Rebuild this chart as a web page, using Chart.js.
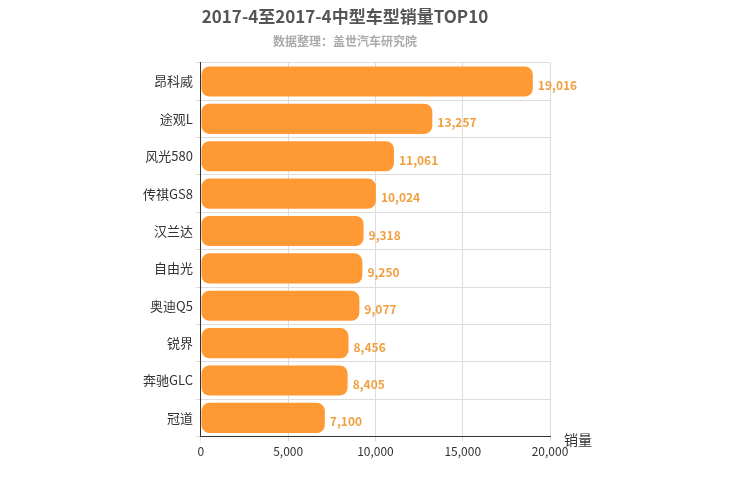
<!DOCTYPE html>
<html><head><meta charset="utf-8">
<script src="https://cdn.jsdelivr.net/npm/chart.js@4"></script>
<style>body{margin:0;background:#fff}#w{width:750px;height:500px}</style>
</head><body><div id="w"><canvas id="c"></canvas></div>
<script>
const categories=["昂科威","途观L","风光580","传祺GS8","汉兰达","自由光","奥迪Q5","锐界","奔驰GLC","冠道"];
const sales=[19016,13257,11061,10024,9318,9250,9077,8456,8405,7100];
const ticks=[0,5000,10000,15000,20000];
const F='"Microsoft YaHei","Noto Sans CJK SC",sans-serif';
const labelPlugin={id:'lbl',afterDatasetsDraw(ch){const ctx=ch.ctx;const m=ch.getDatasetMeta(0);ctx.save();ctx.fillStyle='#f0a040';ctx.font='bold 12px '+F;ctx.textBaseline='middle';m.data.forEach((b,i)=>{ctx.fillText(sales[i].toLocaleString('en-US'),b.x+5,b.y+4);});
const x=ch.scales.x;ctx.fillStyle='#333';ctx.font='14px '+F;ctx.fillText('销量',x.right+14,x.top+3);ctx.restore();}};
new Chart(document.getElementById('c'),{type:'bar',data:{labels:categories,datasets:[{data:sales,backgroundColor:'#ff9933',borderRadius:8,borderSkipped:false,barPercentage:0.85,categoryPercentage:0.95}]},
options:{indexAxis:'y',responsive:true,maintainAspectRatio:false,animation:false,
layout:{padding:{left:140,right:200,top:0,bottom:38}},
plugins:{legend:{display:false},tooltip:{enabled:false},
title:{display:true,text:'2017-4至2017-4中型车型销量TOP10',color:'#555',font:{size:17,weight:'bold',family:F},padding:{top:6,bottom:8}},
subtitle:{display:true,text:'数据整理：盖世汽车研究院',color:'#aaa',font:{size:12,weight:'bold',family:F},padding:{bottom:14}}},
scales:{x:{min:0,max:20000,afterBuildTicks:a=>{a.ticks=ticks.map(v=>({value:v}));},ticks:{color:'#333',font:{size:12,family:F},callback:v=>v.toLocaleString('en-US')},grid:{color:'#ddd',drawTicks:true,tickLength:5},border:{color:'#333'}},
y:{ticks:{color:'#333',font:{size:13,family:F}},grid:{color:'#ddd',offset:true,tickLength:5},border:{color:'#333'}}}},
plugins:[labelPlugin]});
</script></body></html>
